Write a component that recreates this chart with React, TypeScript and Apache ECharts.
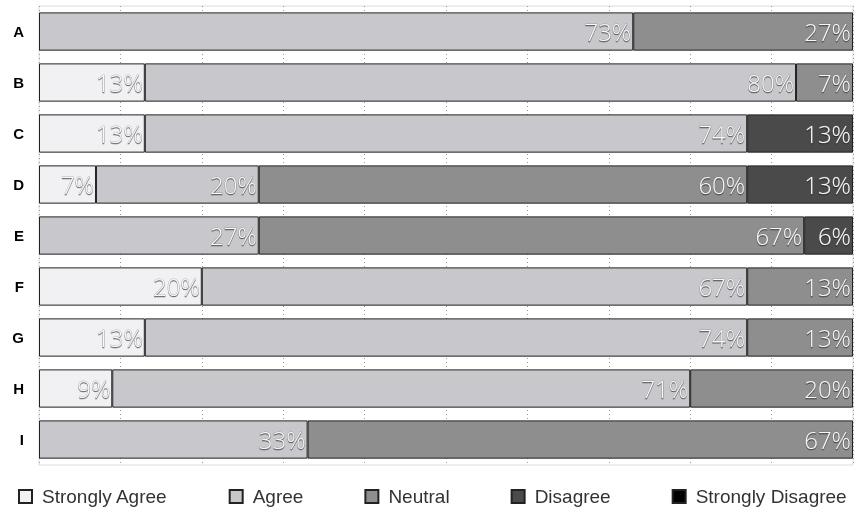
import React, { useEffect, useRef } from "react";
import * as echarts from "echarts";

const categories = ["A", "B", "C", "D", "E", "F", "G", "H", "I"];
const seriesNames = ["Strongly Agree", "Agree", "Neutral", "Disagree", "Strongly Disagree"];
const stronglyAgree = [0, 13, 13, 7, 0, 20, 13, 9, 0];
const agree = [73, 80, 74, 20, 27, 67, 74, 71, 33];
const neutral = [27, 7, 0, 60, 67, 13, 13, 20, 67];
const disagree = [0, 0, 13, 13, 6, 0, 0, 0, 0];
const stronglyDisagree = [0, 0, 0, 0, 0, 0, 0, 0, 0];
const colors = ["#f1f1f4", "#c8c8cc", "#8e8e8e", "#4a4a4a", "#000000"];

export default function App() {
  const ref = useRef<HTMLDivElement>(null);
  useEffect(() => {
    const chart = echarts.init(ref.current!, undefined, { renderer: "svg" });
    const data = [stronglyAgree, agree, neutral, disagree, stronglyDisagree];
    chart.setOption({
      animation: false,
      grid: {
        left: 39,
        right: 1,
        top: 6,
        bottom: 47,
        show: true,
        borderColor: "#dcdcdc",
        borderWidth: 1,
      },
      legend: {
        left: 18,
        top: 487,
        padding: 0,
        width: 836,
        icon: "rect",
        itemWidth: 13,
        itemHeight: 13,
        itemGap: 61,
        textStyle: {
          fontFamily: "Liberation Sans",
          fontSize: 19,
          color: "#333",
          padding: [0, 0, 0, 5],
        },
        data: seriesNames,
      },
      xAxis: {
        type: "value",
        min: 0,
        max: 100,
        interval: 10,
        axisLabel: { show: false },
        axisLine: { show: false },
        axisTick: { show: false },
        splitLine: {
          show: true,
          lineStyle: { color: "#999", type: [1, 3], width: 1 },
        },
      },
      yAxis: {
        type: "category",
        data: categories,
        inverse: true,
        axisLine: { show: false },
        axisTick: { show: false },
        axisLabel: {
          fontFamily: "Liberation Sans",
          fontWeight: "bold",
          fontSize: 15,
          color: "#000",
          margin: 15,
        },
      },
      series: seriesNames.map((name, i) => ({
        name,
        type: "bar",
        stack: "total",
        barWidth: "75%",
        data: data[i].map((v) => (v === 0 ? null : v)),
        itemStyle: {
          color: colors[i],
          borderColor: "#222",
          borderWidth: 1,
        },
        label: {
          show: true,
          position: "insideRight",
          distance: 2,
          formatter: (p: any) => p.value + "%",
          fontFamily: "Open Sans",
          fontWeight: 300,
          fontSize: 24,
          color: "#f8f8f8",
          textBorderColor: "rgba(110,110,110,0.45)",
          textBorderWidth: 0.8,
          textShadowColor: "rgba(0,0,0,0.6)",
          textShadowBlur: 1.5,
          textShadowOffsetX: 0,
          textShadowOffsetY: 1,
        },
      })),
    });
    return () => chart.dispose();
  }, []);
  return (
    <div
      ref={ref}
      style={{ position: "fixed", left: 0, top: 0, width: 854, height: 512 }}
    />
  );
}
